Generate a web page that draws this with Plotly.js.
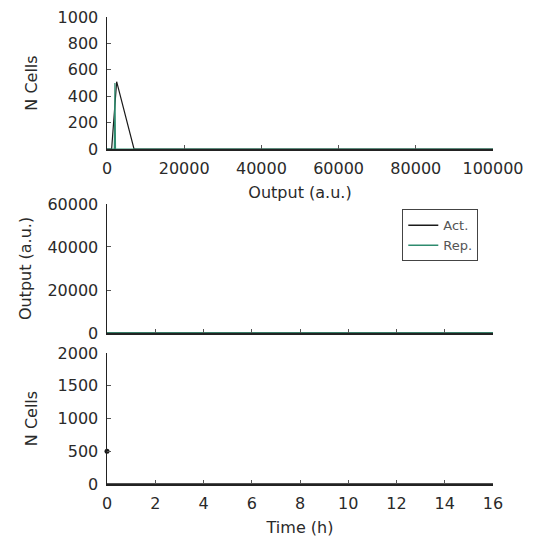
<!DOCTYPE html>
<html><head><meta charset="utf-8">
<script src="https://cdn.plot.ly/plotly-3.0.1.min.js"></script>
<style>html,body{margin:0;padding:0;background:#fff;}#chart{width:534px;height:537px;}</style>
</head><body><div id="chart"></div>
<script>
// Histogram of outputs (top panel)
const histActX = [0, 1200, 2500, 7000, 100000];
const histActY = [0, 0, 510, 0, 0];
const histRepX = [0, 1900, 2050, 2200, 100000];
const histRepY = [0, 0, 500, 0, 0];
// Time courses (middle panel)
const timeH = [0, 2, 4, 6, 8, 10, 12, 14, 16];
const outAct = [0, 0, 0, 0, 0, 0, 0, 0, 0];
const outRep = [0, 0, 0, 0, 0, 0, 0, 0, 0];
// Cell counts (bottom panel)
const cellsT = [0, 2, 4, 6, 8, 10, 12, 14, 16];
const cellsN = [0, 0, 0, 0, 0, 0, 0, 0, 0];
const cellsPointT = [0];
const cellsPointN = [500];

const actColor = '#1a1a1a';
const repColor = '#2e8b6e';
const font = {family: 'DejaVu Sans', size: 16, color: '#2a2a2a'};

const traces = [
  {x: histActX, y: histActY, mode: 'lines', line: {color: actColor, width: 1.2}, xaxis: 'x', yaxis: 'y', showlegend: false},
  {x: histRepX, y: histRepY, mode: 'lines', line: {color: repColor, width: 1.2}, xaxis: 'x', yaxis: 'y', showlegend: false},
  {x: timeH, y: outAct, mode: 'lines', name: 'Act.', line: {color: actColor, width: 1.5}, xaxis: 'x2', yaxis: 'y2'},
  {x: timeH, y: outRep, mode: 'lines', name: 'Rep.', line: {color: repColor, width: 1.5}, xaxis: 'x2', yaxis: 'y2'},
  {x: cellsT, y: cellsN, mode: 'lines', line: {color: actColor, width: 1.5}, xaxis: 'x3', yaxis: 'y3', showlegend: false},
  {x: cellsPointT, y: cellsPointN, mode: 'markers', marker: {color: actColor, size: 5}, xaxis: 'x3', yaxis: 'y3', showlegend: false, cliponaxis: false}
];

const ax = {showgrid: false, zeroline: false, showline: true, linecolor: '#222', linewidth: 1.5,
  ticks: 'inside', ticklen: 4, tickcolor: '#555', tickfont: font, ticklabelstandoff: 4,
  tickformat: 'd', separatethousands: false};

const layout = {
  width: 534, height: 537,
  margin: {l: 107, r: 41, t: 17, b: 53},
  paper_bgcolor: '#fff', plot_bgcolor: '#fff',
  font: font,
  xaxis: Object.assign({}, ax, {domain: [0, 1], anchor: 'y', range: [0, 100000], dtick: 20000, title: {text: 'Output (a.u.)', font: font, standoff: 10}}),
  yaxis: Object.assign({}, ax, {domain: [0.7173, 1], anchor: 'x', range: [0, 1000], dtick: 200, title: {text: 'N Cells', font: font, standoff: 16}}),
  xaxis2: Object.assign({}, ax, {domain: [0, 1], anchor: 'y2', range: [0, 16], dtick: 2, showticklabels: false}),
  yaxis2: Object.assign({}, ax, {domain: [0.3233, 0.5996], anchor: 'x2', range: [0, 60000], dtick: 20000, title: {text: 'Output (a.u.)', font: font, standoff: 12}}),
  xaxis3: Object.assign({}, ax, {domain: [0, 1], anchor: 'y3', range: [0, 16], dtick: 2, title: {text: 'Time (h)', font: font, standoff: 12}}),
  yaxis3: Object.assign({}, ax, {domain: [0, 0.2805], anchor: 'x3', range: [0, 2000], dtick: 500, title: {text: 'N Cells', font: font, standoff: 16}}),
  showlegend: true,
  legend: {x: 0.765, y: 0.588, xanchor: 'left', yanchor: 'top', bgcolor: '#fff', bordercolor: '#444', borderwidth: 1, font: {family: 'DejaVu Sans', size: 13, color: '#555'}, tracegroupgap: 0, itemwidth: 30}
};

Plotly.newPlot('chart', traces, layout, {displayModeBar: false, staticPlot: true});
</script></body></html>
